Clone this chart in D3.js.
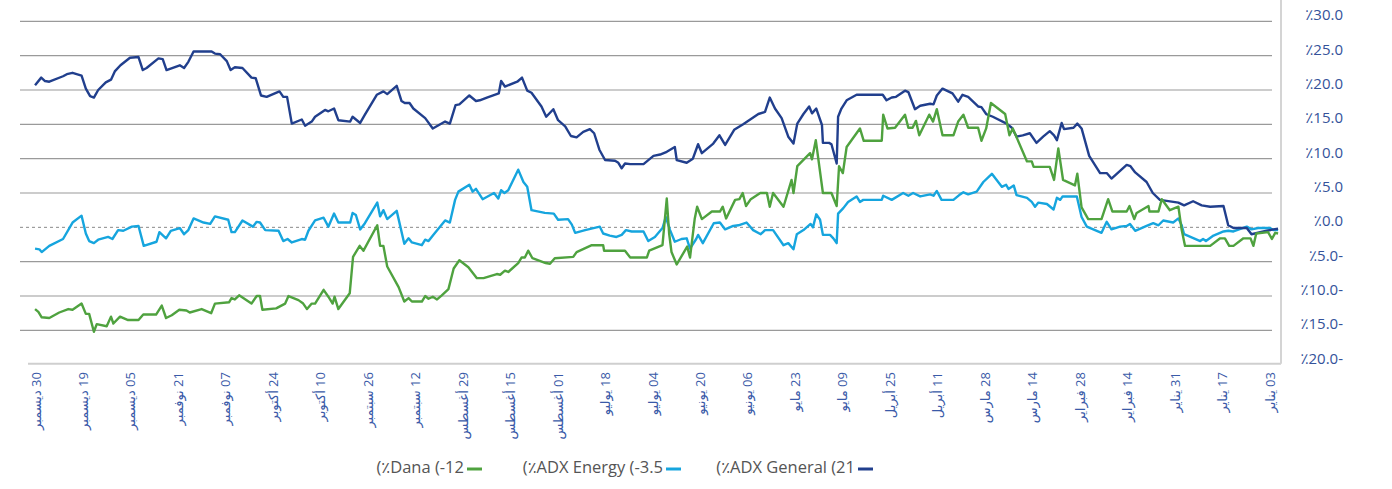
<!DOCTYPE html>
<html>
<head>
<meta charset="utf-8">
<script src="https://cdn.jsdelivr.net/npm/d3@7/dist/d3.min.js"></script>
<style>
  html, body { margin: 0; padding: 0; background: #ffffff; }
  svg { display: block; }
  text { font-family: "Open Sans", "DejaVu Sans", sans-serif; }
</style>
</head>
<body>
<svg id="chart" width="1392" height="489"></svg>
<script>
// X axis: trading-day index (0 = 03 Jan, 260 = 30 Dec); tick every 10 days
const tickDays = [0,10,20,30,40,50,60,70,80,90,100,110,120,130,140,150,160,170,180,190,200,210,220,230,240,250,260];
const tickLabels = ["03 يناير","17 يناير","31 يناير","14 فبراير","28 فبراير","14 مارس","28 مارس","11 أبريل","25 أبريل","09 مايو","23 مايو","06 يونيو","20 يونيو","04 يوليو","18 يوليو","01 أغسطس","15 أغسطس","29 أغسطس","12 سبتمبر","26 سبتمبر","10 أكتوبر","24 أكتوبر","07 نوفمبر","21 نوفمبر","05 ديسمبر","19 ديسمبر","30 ديسمبر"];
const yTicks = [-20,-15,-10,-5,0,5,10,15,20,25,30];
const yTickLabels = ["٪20.0-","٪15.0-","٪10.0-","٪5.0-","٪0.0","٪5.0","٪10.0","٪15.0","٪20.0","٪25.0","٪30.0"];

const seriesNames = ["(٪ADX General (21","(٪ADX Energy (-3.5","(٪Dana (-12"];

// [trading day index, % change]
const generalData = [[260.2,20.7],[258.9,21.8],[258.1,21.3],[257.2,21.2],[254.3,22.0],[253.5,22.3],[252.3,22.5],[250.4,22.1],[249.5,20.2],[248.6,19.1],[247.8,18.9],[246.9,20.0],[245.3,21.1],[244.2,21.5],[243.4,22.7],[242.2,23.6],[240.2,24.7],[238.4,24.8],[237.5,22.9],[236.7,23.2],[234.2,24.6],[233.3,24.5],[232.5,22.9],[229.7,23.6],[228.8,23.2],[227.9,24.1],[226.8,25.6],[223.0,25.6],[222.3,25.3],[221.2,25.2],[219.8,24.2],[219.0,22.9],[218.1,23.3],[216.5,23.2],[214.6,21.8],[213.7,21.7],[212.6,19.2],[211.4,19.0],[208.7,19.8],[207.9,19.0],[207.1,19.0],[206.1,15.1],[204.0,15.7],[203.3,14.8],[201.9,15.4],[201.2,16.1],[199.1,17.1],[198.4,16.9],[197.2,17.3],[196.3,15.6],[193.8,15.4],[193.3,16.1],[191.7,15.2],[190.7,16.4],[188.2,19.3],[186.8,19.8],[186.0,19.4],[184.0,20.6],[183.0,18.4],[182.3,18.1],[181.3,18.1],[180.5,17.3],[178.0,15.9],[176.4,14.4],[173.8,15.4],[172.8,15.1],[171.6,17.8],[170.8,17.9],[168.7,19.2],[167.3,18.4],[166.5,18.5],[165.0,18.9],[162.5,19.5],[162.0,21.3],[161.2,20.5],[158.6,21.2],[157.6,21.8],[156.5,19.9],[155.6,19.6],[153.5,17.6],[152.5,16.1],[151.0,17.2],[150.0,15.6],[148.5,14.7],[147.3,13.3],[146.1,13.1],[144.7,13.9],[143.3,14.3],[142.4,13.7],[141.3,11.3],[140.1,9.8],[138.0,9.7],[137.3,9.4],[136.6,8.6],[135.9,9.3],[134.8,9.2],[132.0,9.2],[129.9,10.4],[128.5,10.6],[127.1,11.0],[125.4,11.7],[125.0,9.8],[122.9,9.4],[121.6,10.0],[120.5,12.1],[119.7,10.8],[117.3,12.2],[116.0,13.4],[114.8,12.0],[112.9,14.2],[111.0,15.0],[107.8,16.5],[106.4,16.8],[105.4,18.9],[104.3,17.3],[102.9,15.9],[101.5,13.2],[100.4,12.2],[99.6,15.1],[98.3,16.5],[97.1,17.6],[96.5,16.6],[95.6,17.3],[94.4,14.9],[94.2,12.3],[92.9,12.3],[92.4,12.1],[91.3,9.3],[91.0,16.1],[90.3,17.3],[89.2,18.5],[87.1,19.3],[81.6,19.3],[80.8,18.5],[79.7,18.9],[78.8,19.0],[76.9,19.9],[76.2,19.7],[74.8,17.2],[73.7,17.7],[71.6,18.0],[70.9,17.9],[70.2,19.2],[69.0,20.2],[66.9,19.5],[65.7,18.3],[64.8,19.3],[63.6,19.0],[61.5,17.6],[60.8,17.5],[59.8,16.5],[58.4,16.1],[55.5,15.1],[54.4,14.5],[53.4,13.2],[52.1,13.4],[50.6,13.7],[49.2,12.3],[47.8,13.2],[46.4,14.0],[45.5,13.4],[44.9,12.7],[43.9,15.2],[43.4,14.3],[41.4,14.5],[40.6,15.1],[39.7,14.4],[38.1,10.4],[35.8,7.9],[34.4,7.9],[33.4,7.1],[30.2,9.1],[29.4,8.9],[28.4,8.0],[26.0,6.6],[24.7,5.0],[23.2,4.0],[19.3,3.6],[18.1,3.2],[16.2,3.8],[14.4,3.2],[12.6,3.0],[9.8,3.1],[8.8,0.3],[7.7,-0.1],[4.9,-0.1],[3.9,-1.0],[0.7,-0.5],[-0.7,-0.3],[-1.7,-0.2]];

const energyData = [[260.2,-3.1],[259.3,-3.2],[258.8,-3.6],[257.2,-2.7],[254.3,-1.7],[252.3,0.7],[250.4,1.7],[249.5,-0.9],[248.8,-2.0],[247.8,-2.3],[246.9,-1.8],[244.8,-1.4],[243.9,-1.7],[242.7,-0.4],[241.6,-0.5],[239.8,0.1],[238.4,0.2],[237.3,-2.7],[234.6,-2.1],[234.0,-0.7],[232.6,-1.6],[231.6,-0.5],[229.7,-0.1],[228.8,-1.0],[227.9,-0.4],[226.8,1.3],[224.7,0.7],[223.3,0.5],[222.3,1.6],[219.5,1.1],[218.8,-0.7],[218.1,-0.7],[216.5,1.0],[214.3,0.1],[213.5,0.8],[212.8,0.7],[211.7,-0.4],[208.9,-0.5],[207.9,-2.0],[207.0,-1.7],[206.1,-2.2],[204.0,-1.7],[203.3,-1.8],[202.6,-0.5],[201.2,1.0],[199.4,1.4],[198.4,0.1],[197.2,2.0],[196.3,0.7],[193.8,0.7],[193.3,2.1],[192.6,1.8],[191.7,-0.3],[190.7,0.6],[188.1,3.6],[187.5,1.6],[186.8,2.5],[186.0,1.2],[184.0,2.4],[182.4,-2.4],[181.5,-1.6],[180.8,-2.2],[178.7,-2.6],[178.0,-1.8],[177.3,-2.0],[176.3,-1.1],[173.8,1.0],[172.8,0.7],[171.7,4.0],[171.0,5.2],[168.7,6.2],[168.0,5.2],[167.3,5.6],[165.9,4.1],[163.5,5.0],[162.6,4.2],[162.0,5.4],[161.3,5.0],[160.5,5.4],[158.4,8.4],[157.3,6.6],[156.5,5.9],[155.6,2.5],[152.8,2.1],[150.9,2.0],[150.0,1.1],[147.9,1.2],[147.1,0.4],[146.4,-0.8],[144.3,-0.4],[141.2,0.1],[140.5,-0.9],[139.1,-1.2],[137.7,-1.4],[136.6,-1.1],[135.7,-0.4],[134.5,-0.6],[132.0,-0.6],[131.0,-2.0],[129.6,-1.4],[128.0,-0.1],[127.3,1.5],[126.4,-0.4],[125.4,-2.1],[124.0,-1.7],[122.9,-1.6],[122.2,-3.1],[120.9,-1.7],[120.5,-1.1],[119.5,-2.3],[117.2,0.6],[115.9,0.7],[114.8,-0.3],[113.1,0.2],[112.0,0.3],[110.3,0.7],[108.9,-0.4],[107.3,-1.0],[106.4,-0.4],[104.7,-0.4],[102.5,-2.6],[101.5,-2.3],[100.4,-3.2],[99.7,-1.0],[98.3,-0.4],[96.8,0.5],[96.3,0.0],[95.6,1.9],[94.8,1.1],[94.2,-1.1],[92.7,-1.1],[92.0,-1.6],[91.3,-2.3],[91.0,2.0],[89.9,2.8],[88.9,3.7],[87.1,4.5],[86.4,3.7],[85.7,4.0],[81.8,4.0],[81.5,4.6],[79.7,4.0],[77.3,5.0],[76.2,4.6],[75.2,5.0],[73.7,4.5],[71.6,4.8],[70.9,4.6],[70.2,5.3],[69.2,4.0],[66.7,4.0],[65.3,4.8],[64.6,5.1],[63.6,4.8],[61.8,5.2],[60.4,6.6],[58.6,7.8],[56.5,5.9],[55.6,6.2],[55.1,5.6],[54.0,6.1],[53.4,4.7],[51.2,4.3],[50.2,3.7],[49.5,3.0],[48.8,3.6],[47.0,3.4],[45.6,2.6],[44.9,4.3],[44.2,4.0],[43.7,4.5],[40.7,4.5],[39.7,1.5],[38.6,0.1],[35.5,-0.8],[34.4,0.8],[33.4,-0.3],[31.6,0.1],[30.2,0.2],[29.5,0.5],[28.4,-0.5],[26.0,0.2],[24.6,0.6],[23.5,0.3],[22.5,1.0],[20.4,0.7],[19.3,1.3],[18.6,0.3],[18.1,-1.0],[14.7,-2.0],[14.1,-1.7],[13.5,-2.0],[11.9,-1.2],[9.8,-0.6],[8.8,-0.5],[7.7,-0.6],[4.9,0.1],[3.9,-0.3],[2.5,-0.1],[0.0,-0.1],[-0.7,-0.4],[-1.7,-0.4]];

const danaData = [[260.2,-11.9],[259.5,-12.3],[258.8,-13.1],[257.2,-13.2],[255.1,-12.4],[253.2,-11.9],[252.3,-12.0],[250.4,-11.1],[249.5,-12.6],[248.8,-12.6],[247.8,-15.2],[247.2,-14.1],[245.1,-14.4],[244.2,-13.0],[243.7,-14.0],[242.3,-13.0],[240.6,-13.5],[238.4,-13.5],[237.4,-12.7],[234.7,-12.7],[233.5,-11.4],[232.6,-13.2],[231.4,-12.8],[229.8,-12.0],[228.3,-12.1],[227.6,-12.4],[225.1,-11.9],[223.1,-12.5],[222.3,-11.1],[219.3,-10.9],[218.8,-10.3],[218.1,-10.5],[217.2,-9.9],[214.6,-11.1],[213.5,-10.0],[212.8,-10.0],[212.3,-12.0],[209.4,-11.8],[207.5,-11.1],[206.8,-10.0],[204.7,-10.6],[203.7,-11.1],[202.9,-11.9],[201.9,-11.1],[201.2,-11.1],[199.4,-9.1],[198.4,-10.1],[197.5,-11.1],[197.1,-10.1],[196.3,-11.9],[193.9,-9.6],[193.2,-4.3],[191.8,-2.7],[191.0,-3.4],[188.1,0.3],[187.5,-2.7],[186.8,-2.7],[186.0,-5.7],[183.6,-8.7],[182.4,-10.8],[181.5,-10.3],[180.8,-10.8],[178.7,-10.8],[178.0,-10.0],[177.3,-10.4],[176.4,-10.1],[175.5,-10.5],[174.5,-9.9],[173.1,-9.0],[172.0,-6.0],[170.8,-4.8],[168.9,-5.8],[167.1,-7.4],[165.7,-7.4],[162.9,-6.8],[162.2,-6.9],[161.2,-6.3],[160.5,-6.5],[158.4,-5.2],[157.7,-4.4],[157.0,-4.4],[156.3,-3.4],[155.4,-4.5],[152.6,-5.2],[151.7,-5.3],[150.7,-4.5],[146.8,-4.3],[146.1,-3.6],[142.9,-2.6],[140.5,-2.6],[140.3,-3.4],[135.9,-3.4],[134.8,-4.4],[131.3,-4.4],[130.8,-3.4],[128.0,-2.6],[127.1,4.2],[126.6,-0.9],[126.1,-3.6],[125.0,-5.4],[122.8,-2.8],[122.2,-4.4],[121.2,1.3],[120.7,3.0],[119.7,1.2],[117.6,2.3],[115.9,2.3],[115.3,3.0],[114.6,1.3],[112.7,4.0],[111.8,4.1],[111.1,5.0],[110.4,3.1],[109.4,4.1],[107.4,5.0],[106.0,5.0],[105.4,3.0],[104.7,5.0],[102.5,3.0],[100.8,6.9],[100.4,5.0],[99.6,8.9],[96.9,10.8],[96.5,9.9],[95.7,12.7],[94.2,5.0],[92.4,5.0],[91.3,3.1],[90.8,8.9],[90.0,7.9],[89.2,11.7],[86.4,14.4],[85.6,12.6],[81.8,12.6],[81.5,16.4],[80.6,14.4],[79.0,14.5],[76.9,16.4],[76.2,14.5],[75.3,14.5],[74.6,15.5],[73.9,13.4],[71.8,16.4],[71.0,15.4],[70.2,17.2],[69.0,13.4],[66.7,13.4],[65.7,15.4],[64.6,16.4],[63.6,14.5],[61.5,14.5],[60.8,12.6],[59.8,14.4],[58.8,18.1],[55.8,16.5],[54.9,13.4],[54.2,14.4],[51.2,9.6],[50.2,9.6],[49.8,8.8],[46.4,8.8],[45.5,6.9],[44.6,11.5],[43.6,6.9],[41.1,6.1],[40.6,7.8],[39.7,2.9],[38.3,1.2],[35.5,1.2],[34.1,4.1],[33.2,2.3],[30.2,2.3],[29.6,3.1],[28.6,1.2],[28.1,2.1],[25.6,3.1],[25.4,2.3],[23.5,2.3],[22.8,4.1],[21.1,2.5],[19.3,3.0],[18.6,-0.4],[17.9,-2.7],[12.6,-2.7],[10.5,-1.6],[9.5,-1.6],[8.6,-2.7],[7.7,-2.7],[5.6,-1.6],[4.1,-1.6],[3.5,-2.7],[2.9,-0.9],[0.4,-0.7],[-0.4,-1.7],[-1.1,-0.8],[-1.7,-0.9]];

const colors = { general: "#213f8d", energy: "#16a5de", dana: "#4fa23f" };

const svg = d3.select("#chart");
const x = d3.scaleLinear().domain([0, 260]).range([1270, 36]);
const y = d3.scaleLinear().domain([-20, 30]).range([364.7, 21.3]);

// horizontal grid lines
svg.append("g").selectAll("line")
  .data(yTicks.filter(v => v !== 0 && v !== -20))
  .join("line")
  .attr("x1", 20).attr("x2", 1272)
  .attr("y1", d => y(d)).attr("y2", d => y(d))
  .attr("stroke", "#9a9a9a").attr("stroke-width", 1.2);

// zero dashed line
svg.append("line")
  .attr("x1", 20).attr("x2", 1272)
  .attr("y1", y(0)).attr("y2", y(0))
  .attr("stroke", "#8a8a8a").attr("stroke-width", 1)
  .attr("stroke-dasharray", "3,3");

// bottom axis line
svg.append("line")
  .attr("x1", 28).attr("x2", 1281)
  .attr("y1", y(-20) - 1).attr("y2", y(-20) - 1)
  .attr("stroke", "#cfcfcf").attr("stroke-width", 2);

// right vertical axis line
svg.append("line")
  .attr("x1", 1281).attr("x2", 1281)
  .attr("y1", 0).attr("y2", y(-20) - 1)
  .attr("stroke", "#d4d4d4").attr("stroke-width", 2);

// y tick labels
svg.append("g").selectAll("text")
  .data(yTicks)
  .join("text")
  .attr("x", 1343)
  .attr("y", d => y(d) - 5)
  .attr("text-anchor", "end")
  .attr("dominant-baseline", "middle")
  .attr("fill", "#34529a")
  .attr("font-size", 15)
  .text((d, i) => yTickLabels[i]);

// x tick labels (rotated)
svg.append("g").selectAll("text")
  .data(tickDays)
  .join("text")
  .attr("transform", d => `translate(${x(d) + 4.5},372) rotate(-90)`)
  .attr("text-anchor", "end")
  .attr("fill", "#3a5aa8")
  .attr("font-size", 13)
  .text((d, i) => "\u202B" + tickLabels[i] + "\u202C");

// lines
const line = d3.line().x(d => x(d[0])).y(d => y(d[1]));
const drawOrder = [
  { data: energyData, color: colors.energy },
  { data: generalData, color: colors.general },
  { data: danaData, color: colors.dana }
];
svg.append("g").selectAll("path")
  .data(drawOrder)
  .join("path")
  .attr("d", d => line(d.data))
  .attr("fill", "none")
  .attr("stroke", d => d.color)
  .attr("stroke-width", 2.4)
  .attr("stroke-linejoin", "round");

// legend
const legendItems = [
  { name: seriesNames[2], color: colors.dana, sx: 467 },
  { name: seriesNames[1], color: colors.energy, sx: 666 },
  { name: seriesNames[0], color: colors.general, sx: 858 }
];
const lg = svg.append("g");
legendItems.forEach(it => {
  lg.append("line")
    .attr("x1", it.sx).attr("x2", it.sx + 15)
    .attr("y1", 469).attr("y2", 469)
    .attr("stroke", it.color).attr("stroke-width", 3);
  lg.append("text")
    .attr("x", it.sx - 3).attr("y", 469)
    .attr("text-anchor", "end")
    .attr("dominant-baseline", "middle")
    .attr("fill", "#555555")
    .attr("font-size", 16.5)
    .text(it.name);
});
</script>
</body>
</html>
